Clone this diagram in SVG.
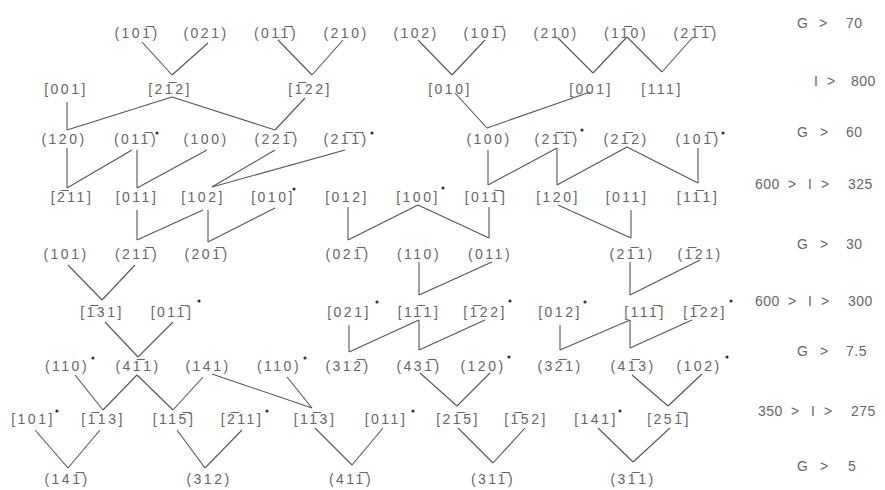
<svg xmlns="http://www.w3.org/2000/svg" width="885" height="490" viewBox="0 0 885 490">
<style>
.t{font-family:"Liberation Sans",Arial,sans-serif;font-size:14px;fill:#666;letter-spacing:2.5px;text-anchor:middle}
.r{font-family:"Liberation Sans",Arial,sans-serif;font-size:14px;fill:#666;letter-spacing:0.5px}
.d{fill:#333}
#edges line{stroke:#555;stroke-width:1.1;fill:none}
</style>
<rect width="885" height="490" fill="#fff"/>
<g id="edges">
<line x1="142" y1="42" x2="172" y2="75"/><line x1="208" y1="43" x2="172" y2="75"/>
<line x1="278" y1="40" x2="312" y2="75"/><line x1="343" y1="40" x2="312" y2="75"/>
<line x1="418" y1="40" x2="452" y2="75"/><line x1="485" y1="40" x2="452" y2="75"/>
<line x1="558" y1="38" x2="593" y2="73"/><line x1="627" y1="37" x2="593" y2="73"/>
<line x1="627" y1="37" x2="662" y2="72"/><line x1="693" y1="37" x2="662" y2="72"/>
<line x1="67" y1="102" x2="67" y2="130"/><line x1="172" y1="97" x2="67" y2="130"/>
<line x1="172" y1="97" x2="275" y2="130"/><line x1="305" y1="98" x2="275" y2="130"/>
<line x1="455" y1="93" x2="487" y2="128"/><line x1="590" y1="92" x2="487" y2="128"/>
<line x1="67" y1="148" x2="67" y2="188"/><line x1="132" y1="150" x2="67" y2="188"/>
<line x1="137" y1="150" x2="137" y2="188"/><line x1="207" y1="150" x2="137" y2="188"/>
<line x1="275" y1="150" x2="212" y2="187"/><line x1="345" y1="150" x2="212" y2="187"/>
<line x1="488" y1="150" x2="488" y2="185"/><line x1="557" y1="148" x2="488" y2="185"/>
<line x1="557" y1="148" x2="557" y2="185"/><line x1="627" y1="147" x2="557" y2="185"/>
<line x1="627" y1="147" x2="698" y2="183"/><line x1="698" y1="148" x2="698" y2="183"/>
<line x1="137" y1="210" x2="137" y2="240"/><line x1="203" y1="210" x2="137" y2="240"/>
<line x1="208" y1="210" x2="208" y2="242"/><line x1="275" y1="208" x2="208" y2="242"/>
<line x1="348" y1="207" x2="348" y2="240"/><line x1="418" y1="205" x2="348" y2="240"/>
<line x1="418" y1="205" x2="489" y2="238"/><line x1="489" y1="207" x2="489" y2="238"/>
<line x1="558" y1="205" x2="631" y2="238"/><line x1="631" y1="210" x2="631" y2="238"/>
<line x1="68" y1="265" x2="102" y2="300"/><line x1="135" y1="265" x2="102" y2="300"/>
<line x1="419" y1="262" x2="419" y2="295"/><line x1="492" y1="262" x2="419" y2="295"/>
<line x1="630" y1="262" x2="630" y2="295"/><line x1="700" y1="260" x2="630" y2="295"/>
<line x1="105" y1="322" x2="138" y2="357"/><line x1="173" y1="322" x2="138" y2="357"/>
<line x1="349" y1="325" x2="349" y2="352"/><line x1="419" y1="320" x2="349" y2="352"/>
<line x1="419" y1="320" x2="419" y2="350"/><line x1="485" y1="320" x2="419" y2="350"/>
<line x1="560" y1="325" x2="560" y2="350"/><line x1="630" y1="320" x2="560" y2="350"/>
<line x1="630" y1="320" x2="630" y2="348"/><line x1="692" y1="320" x2="630" y2="348"/>
<line x1="75" y1="375" x2="103" y2="410"/><line x1="137" y1="375" x2="103" y2="410"/>
<line x1="137" y1="375" x2="173" y2="410"/><line x1="203" y1="377" x2="173" y2="410"/>
<line x1="212" y1="374" x2="312" y2="408"/><line x1="287" y1="377" x2="312" y2="408"/>
<line x1="420" y1="373" x2="457" y2="406"/><line x1="490" y1="373" x2="457" y2="406"/>
<line x1="632" y1="375" x2="668" y2="406"/><line x1="702" y1="374" x2="668" y2="406"/>
<line x1="35" y1="430" x2="68" y2="468"/><line x1="100" y1="430" x2="68" y2="468"/>
<line x1="177" y1="430" x2="205" y2="468"/><line x1="242" y1="430" x2="205" y2="468"/>
<line x1="315" y1="428" x2="352" y2="465"/><line x1="383" y1="428" x2="352" y2="465"/>
<line x1="458" y1="428" x2="493" y2="463"/><line x1="525" y1="428" x2="493" y2="463"/>
<line x1="598" y1="428" x2="633" y2="462"/><line x1="670" y1="428" x2="633" y2="462"/>
</g>
<g id="n1a"><text class="t" x="137" y="38">(101&#x305;)</text></g>
<g id="n1b"><text class="t" x="206" y="38">(021)</text></g>
<g id="n1c"><text class="t" x="276" y="38">(011&#x305;)</text></g>
<g id="n1d"><text class="t" x="346" y="38">(210)</text></g>
<g id="n1e"><text class="t" x="416" y="38">(102)</text></g>
<g id="n1f"><text class="t" x="486" y="38">(101&#x305;)</text></g>
<g id="n1g"><text class="t" x="556" y="38">(210)</text></g>
<g id="n1h"><text class="t" x="626" y="38">(11&#x305;0)</text></g>
<g id="n1i"><text class="t" x="696" y="38">(21&#x305;1&#x305;)</text></g>
<g id="n2a"><text class="t" x="66" y="94">[001]</text></g>
<g id="n2b"><text class="t" x="170" y="94">[21&#x305;2]</text></g>
<g id="n2c"><text class="t" x="310" y="94">[1&#x305;22]</text></g>
<g id="n2d"><text class="t" x="450" y="94">[010]</text></g>
<g id="n2e"><text class="t" x="591" y="94">[001]</text></g>
<g id="n2f"><text class="t" x="662" y="94">[111]</text></g>
<g id="n3a"><text class="t" x="64" y="144">(120)</text></g>
<g id="n3b"><text class="t" x="136" y="144">(011&#x305;)</text><circle class="d" cx="157" cy="133" r="1.6"/></g>
<g id="n3c"><text class="t" x="206" y="144">(100)</text></g>
<g id="n3d"><text class="t" x="277" y="144">(221&#x305;)</text></g>
<g id="n3e"><text class="t" x="346" y="144">(21&#x305;1&#x305;)</text><circle class="d" cx="372" cy="133" r="1.6"/></g>
<g id="n3f"><text class="t" x="489" y="144">(100)</text></g>
<g id="n3g"><text class="t" x="557" y="144">(21&#x305;1&#x305;)</text><circle class="d" cx="582" cy="130" r="1.6"/></g>
<g id="n3h"><text class="t" x="626" y="144">(21&#x305;2)</text></g>
<g id="n3i"><text class="t" x="698" y="144">(101&#x305;)</text><circle class="d" cx="723" cy="133" r="1.6"/></g>
<g id="n4a"><text class="t" x="72" y="202">[2&#x305;11]</text></g>
<g id="n4b"><text class="t" x="137" y="202">[011]</text></g>
<g id="n4c"><text class="t" x="203" y="202">[102]</text></g>
<g id="n4d"><text class="t" x="273" y="202">[010]</text><circle class="d" cx="294" cy="189" r="1.6"/></g>
<g id="n4e"><text class="t" x="347" y="202">[012]</text></g>
<g id="n4f"><text class="t" x="418" y="202">[100]</text><circle class="d" cx="443" cy="188" r="1.6"/></g>
<g id="n4g"><text class="t" x="486" y="202">[011&#x305;]</text></g>
<g id="n4h"><text class="t" x="558" y="202">[120]</text></g>
<g id="n4i"><text class="t" x="627" y="202">[011]</text></g>
<g id="n4j"><text class="t" x="698" y="202">[11&#x305;1]</text></g>
<g id="n5a"><text class="t" x="66" y="259">(101)</text></g>
<g id="n5b"><text class="t" x="137" y="259">(211&#x305;)</text></g>
<g id="n5c"><text class="t" x="207" y="259">(201&#x305;)</text></g>
<g id="n5d"><text class="t" x="348" y="259">(021&#x305;)</text></g>
<g id="n5e"><text class="t" x="419" y="259">(110)</text></g>
<g id="n5f"><text class="t" x="490" y="259">(011)</text></g>
<g id="n5g"><text class="t" x="632" y="259">(21&#x305;1)</text></g>
<g id="n5h"><text class="t" x="700" y="259">(1&#x305;21)</text></g>
<g id="n6a"><text class="t" x="102" y="317">[1&#x305;31]</text></g>
<g id="n6b"><text class="t" x="172" y="317">[011&#x305;]</text><circle class="d" cx="199" cy="301" r="1.6"/></g>
<g id="n6c"><text class="t" x="349" y="317">[021]</text><circle class="d" cx="377" cy="302" r="1.6"/></g>
<g id="n6d"><text class="t" x="419" y="317">[11&#x305;1]</text></g>
<g id="n6e"><text class="t" x="485" y="317">[1&#x305;22]</text><circle class="d" cx="510" cy="301" r="1.6"/></g>
<g id="n6f"><text class="t" x="560" y="317">[012]</text><circle class="d" cx="585" cy="302" r="1.6"/></g>
<g id="n6g"><text class="t" x="645" y="317">[111&#x305;]</text></g>
<g id="n6h"><text class="t" x="705" y="317">[1&#x305;22]</text><circle class="d" cx="731" cy="301" r="1.6"/></g>
<g id="n7a"><text class="t" x="67" y="371">(110)</text><circle class="d" cx="93" cy="358" r="1.6"/></g>
<g id="n7b"><text class="t" x="138" y="371">(41&#x305;1)</text></g>
<g id="n7c"><text class="t" x="208" y="371">(141)</text></g>
<g id="n7d"><text class="t" x="279" y="371">(110)</text><circle class="d" cx="305" cy="358" r="1.6"/></g>
<g id="n7e"><text class="t" x="348" y="371">(312&#x305;)</text></g>
<g id="n7f"><text class="t" x="419" y="371">(431&#x305;)</text></g>
<g id="n7g"><text class="t" x="483" y="371">(120)</text><circle class="d" cx="509" cy="357" r="1.6"/></g>
<g id="n7h"><text class="t" x="560" y="371">(32&#x305;1)</text></g>
<g id="n7i"><text class="t" x="633" y="371">(41&#x305;3)</text></g>
<g id="n7j"><text class="t" x="699" y="371">(102)</text><circle class="d" cx="727" cy="357" r="1.6"/></g>
<g id="n8a"><text class="t" x="33" y="424">[101]</text><circle class="d" cx="57" cy="411" r="1.6"/></g>
<g id="n8b"><text class="t" x="103" y="424">[1&#x305;13]</text></g>
<g id="n8c"><text class="t" x="174" y="424">[115&#x305;]</text></g>
<g id="n8d"><text class="t" x="242" y="424">[2&#x305;11]</text><circle class="d" cx="267" cy="411" r="1.6"/></g>
<g id="n8e"><text class="t" x="315" y="424">[11&#x305;3]</text></g>
<g id="n8f"><text class="t" x="386" y="424">[011]</text><circle class="d" cx="413" cy="411" r="1.6"/></g>
<g id="n8g"><text class="t" x="458" y="424">[21&#x305;5]</text></g>
<g id="n8h"><text class="t" x="526" y="424">[1&#x305;52]</text></g>
<g id="n8i"><text class="t" x="596" y="424">[141]</text><circle class="d" cx="620" cy="411" r="1.6"/></g>
<g id="n8j"><text class="t" x="669" y="424">[251&#x305;]</text></g>
<g id="n9a"><text class="t" x="67" y="484">(141&#x305;)</text></g>
<g id="n9b"><text class="t" x="209" y="484">(312)</text></g>
<g id="n9c"><text class="t" x="351" y="484">(411&#x305;)</text></g>
<g id="n9d"><text class="t" x="493" y="484">(311&#x305;)</text></g>
<g id="n9e"><text class="t" x="633" y="484">(31&#x305;1)</text></g>
<g id="levels">
<text class="r" y="28"><tspan x="797">G</tspan><tspan x="819">&gt;</tspan><tspan x="846">70</tspan></text>
<text class="r" y="86"><tspan x="814">I</tspan><tspan x="827">&gt;</tspan><tspan x="851">800</tspan></text>
<text class="r" y="137"><tspan x="797">G</tspan><tspan x="820">&gt;</tspan><tspan x="846">60</tspan></text>
<text class="r" y="189"><tspan x="755">600</tspan><tspan x="788">&gt;</tspan><tspan x="808">I</tspan><tspan x="821">&gt;</tspan><tspan x="848">325</tspan></text>
<text class="r" y="249"><tspan x="797">G</tspan><tspan x="820">&gt;</tspan><tspan x="846">30</tspan></text>
<text class="r" y="306"><tspan x="755">600</tspan><tspan x="788">&gt;</tspan><tspan x="808">I</tspan><tspan x="821">&gt;</tspan><tspan x="848">300</tspan></text>
<text class="r" y="356"><tspan x="797">G</tspan><tspan x="820">&gt;</tspan><tspan x="846">7.5</tspan></text>
<text class="r" y="416"><tspan x="758">350</tspan><tspan x="791">&gt;</tspan><tspan x="811">I</tspan><tspan x="824">&gt;</tspan><tspan x="851">275</tspan></text>
<text class="r" y="471"><tspan x="797">G</tspan><tspan x="820">&gt;</tspan><tspan x="848">5</tspan></text>
</g>
</svg>
